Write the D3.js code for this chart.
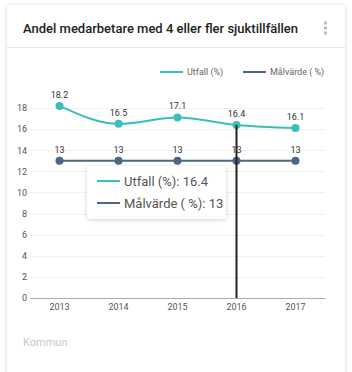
<!DOCTYPE html>
<html>
<head>
<meta charset="utf-8">
<script src="https://cdn.jsdelivr.net/npm/d3@7"></script>
<style>
  body { margin: 0; background: #fff; font-family: Roboto, sans-serif; }
  #graf { width: 352px; height: 372px; }
</style>
</head>
<body>
<div id="graf"></div>
<script>
// Datos
years = ['2013', '2014', '2015', '2016', '2017']
utfall = [18.2, 16.5, 17.1, 16.4, 16.1]
malvarde = [13, 13, 13, 13, 13]
yTicks = [0, 2, 4, 6, 8, 10, 12, 14, 16, 18]
seriesNames = ['Utfall (%)', 'Målvärde ( %)']
seriesColors = ['#3bbfb9', '#4b6784']
hoverIndex = 3

svg = d3.select('#graf').append('svg')
        .attr('width', 352)
        .attr('height', 372)

// Tarjeta
defs = svg.append('defs')
f = defs.append('filter').attr('id', 'sombra').attr('x', '-20%').attr('y', '-20%').attr('width', '140%').attr('height', '150%')
f.append('feDropShadow').attr('dx', 0).attr('dy', 1).attr('stdDeviation', 2).attr('flood-color', '#000').attr('flood-opacity', 0.18)

svg.append('rect')
   .attr('x', 7).attr('y', 5).attr('width', 338).attr('height', 370)
   .attr('fill', '#fff')
   .attr('filter', 'url(#sombra)')

svg.append('text')
   .attr('x', 23).attr('y', 33)
   .attr('font-size', '13px')
   .attr('font-weight', 500)
   .attr('fill', '#222')
   .text('Andel medarbetare med 4 eller fler sjuktillfällen')

;[23, 28, 33].forEach(cy => {
  svg.append('rect').attr('x', 324).attr('y', cy - 1.5).attr('width', 3).attr('height', 3).attr('fill', '#bbb')
})

svg.append('line')
   .attr('x1', 7).attr('x2', 345).attr('y1', 47.5).attr('y2', 47.5)
   .attr('stroke', '#e6e6e6')

// Leyenda
legendX = [160, 243]
seriesNames.forEach((n, i) => {
  svg.append('line')
     .attr('x1', legendX[i]).attr('x2', legendX[i] + 23)
     .attr('y1', 72).attr('y2', 72)
     .attr('stroke', seriesColors[i]).attr('stroke-width', 2)
  svg.append('text')
     .attr('x', legendX[i] + 27).attr('y', 75)
     .attr('font-size', '9px').attr('fill', '#666')
     .text(n)
})

// Escaladores
margins = {left: 30, right: 27}
ancho = 352 - margins.left - margins.right

g = svg.append('g').attr('transform', `translate(${margins.left}, 0)`)

y = d3.scaleLinear().domain([0, 18]).range([298, 298 - 18 * 10.556])
x = d3.scaleBand().domain(years).range([0, ancho])
cx = d => x(d) + x.bandwidth() / 2

// Rejilla
g.selectAll('.grid')
 .data(yTicks.filter(t => t > 0))
 .enter().append('line')
   .attr('x1', 0).attr('x2', ancho)
   .attr('y1', d => Math.round(y(d)) + 0.5).attr('y2', d => Math.round(y(d)) + 0.5)
   .attr('stroke', '#eef0f2')

yAxis = g.append('g').call(d3.axisLeft(y).tickValues(yTicks).tickSize(0).tickPadding(3))
yAxis.select('.domain').remove()
yAxis.selectAll('text').attr('font-size', '9px').attr('fill', '#555').attr('font-family', 'Roboto, sans-serif')

xAxis = g.append('g').attr('transform', `translate(0, ${y(0)})`)
         .call(d3.axisBottom(x).tickSize(0).tickPadding(6))
xAxis.select('.domain').attr('stroke', '#aaa')
xAxis.selectAll('text').attr('font-size', '9px').attr('fill', '#555').attr('font-family', 'Roboto, sans-serif')

// Líneas
allSeries = [utfall, malvarde]
allSeries.forEach((s, i) => {
  pts = years.map((yr, j) => [cx(yr), y(s[j])])
  g.append('path')
   .datum(pts)
   .attr('d', d3.line().curve(d3.curveMonotoneX))
   .attr('fill', 'none')
   .attr('stroke', seriesColors[i])
   .attr('stroke-width', 2)
  g.selectAll('.dot' + i)
   .data(s)
   .enter().append('circle')
     .attr('cx', (d, j) => cx(years[j]))
     .attr('cy', d => y(d))
     .attr('r', 4)
     .attr('fill', seriesColors[i])
  g.selectAll('.lbl' + i)
   .data(s)
   .enter().append('text')
     .attr('x', (d, j) => cx(years[j]))
     .attr('y', d => y(d) - 8)
     .attr('text-anchor', 'middle')
     .attr('font-size', '9px')
     .attr('fill', '#333')
     .text(d => d)
})

// Cursor
hx = cx(years[hoverIndex])
g.append('line')
 .attr('x1', hx).attr('x2', hx)
 .attr('y1', y(utfall[hoverIndex])).attr('y2', y(0))
 .attr('stroke', '#222').attr('stroke-width', 2)

// Tooltip
tt = svg.append('g').attr('transform', 'translate(87, 166)')
tt.append('rect')
  .attr('width', 139).attr('height', 53).attr('rx', 3)
  .attr('fill', '#fff')
  .attr('filter', 'url(#sombra)')
seriesNames.forEach((n, i) => {
  vals = [utfall, malvarde][i]
  tt.append('line')
    .attr('x1', 10).attr('x2', 33)
    .attr('y1', 15 + i * 22).attr('y2', 15 + i * 22)
    .attr('stroke', seriesColors[i]).attr('stroke-width', 2)
  tt.append('text')
    .attr('x', 37).attr('y', 20 + i * 22)
    .attr('font-size', '13px').attr('fill', '#555')
    .text(`${n}: ${vals[hoverIndex]}`)
})

svg.append('text')
   .attr('x', 23).attr('y', 346)
   .attr('font-size', '11px').attr('fill', '#c8c8c8')
   .text('Kommun')
</script>
</body>
</html>
